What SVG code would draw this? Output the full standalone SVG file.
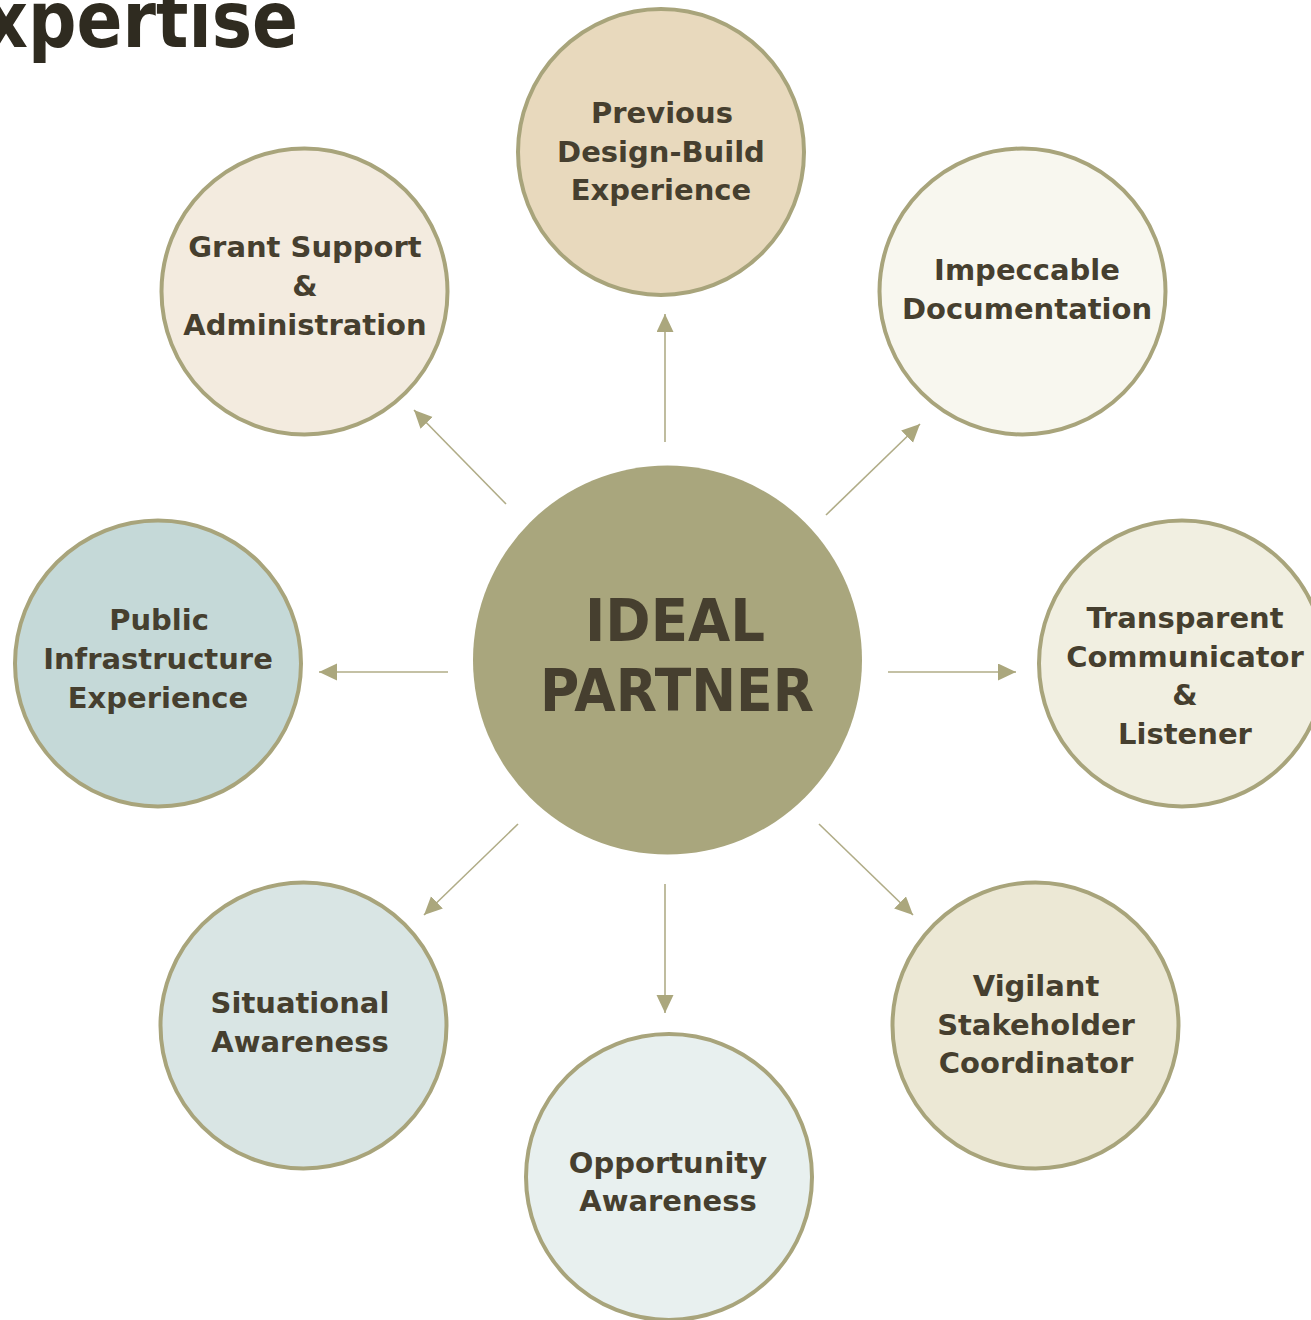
<svg xmlns="http://www.w3.org/2000/svg" width="1311" height="1320" viewBox="0 0 1311 1320">
<style>
.node{stroke:#a8a47b;stroke-width:4}
.t{font-family:"DejaVu Sans","Liberation Sans",sans-serif;font-weight:bold;font-size:29px;fill:#463f2f;text-anchor:middle}
.big{font-size:58px}
.c{fill:none;stroke:#b0ac87;stroke-width:1.6}
</style>
<defs>
<marker id="ah" markerUnits="userSpaceOnUse" markerWidth="19" markerHeight="18" refX="18" refY="8.5" orient="auto">
<path d="M0,0 L18,8.5 L0,17 z" fill="#aba77d"/>
</marker>
</defs>
<rect width="1311" height="1320" fill="#ffffff"/>
<text x="-62" y="47" font-family="DejaVu Sans,Liberation Sans,sans-serif" font-weight="bold" font-size="78" fill="#2f2b20" textLength="360" lengthAdjust="spacingAndGlyphs">Expertise</text>
<g id="connectors">
<line class="c" x1="665" y1="442" x2="665" y2="314" marker-end="url(#ah)"/>
<line class="c" x1="506" y1="504" x2="414" y2="410" marker-end="url(#ah)"/>
<line class="c" x1="826" y1="515" x2="920" y2="424" marker-end="url(#ah)"/>
<line class="c" x1="888" y1="672" x2="1016" y2="672" marker-end="url(#ah)"/>
<line class="c" x1="448" y1="672" x2="319" y2="672" marker-end="url(#ah)"/>
<line class="c" x1="518" y1="824" x2="424" y2="915" marker-end="url(#ah)"/>
<line class="c" x1="665" y1="884" x2="665" y2="1013" marker-end="url(#ah)"/>
<line class="c" x1="819" y1="824" x2="913" y2="915" marker-end="url(#ah)"/>
</g>
<g id="center">
<circle cx="667.5" cy="660" r="194.5" fill="#a9a67d"/>
<text class="t big" x="675" y="641" textLength="180" lengthAdjust="spacingAndGlyphs">IDEAL</text>
<text class="t big" x="677" y="711" textLength="274" lengthAdjust="spacingAndGlyphs">PARTNER</text>
</g>
<g id="previous">
<circle class="node" cx="661" cy="152" r="143" fill="#e8d9bd"/>
<text class="t" x="662" y="123">Previous</text>
<text class="t" x="661" y="162">Design-Build</text>
<text class="t" x="661" y="200">Experience</text>
</g>
<g id="grant">
<circle class="node" cx="304.5" cy="291.5" r="143" fill="#f3ebdf"/>
<text class="t" x="305" y="257">Grant Support</text>
<text class="t" x="305" y="296">&amp;</text>
<text class="t" x="305" y="335">Administration</text>
</g>
<g id="impeccable">
<circle class="node" cx="1022.5" cy="291.5" r="143" fill="#f8f7ef"/>
<text class="t" x="1027" y="280">Impeccable</text>
<text class="t" x="1027" y="319">Documentation</text>
</g>
<g id="public">
<circle class="node" cx="158" cy="663.5" r="143" fill="#c5d9d8"/>
<text class="t" x="159" y="630">Public</text>
<text class="t" x="158" y="669">Infrastructure</text>
<text class="t" x="158" y="708">Experience</text>
</g>
<g id="transparent">
<circle class="node" cx="1182" cy="663.5" r="143" fill="#f1efe1"/>
<text class="t" x="1185" y="628">Transparent</text>
<text class="t" x="1185" y="667">Communicator</text>
<text class="t" x="1185" y="705">&amp;</text>
<text class="t" x="1185" y="744">Listener</text>
</g>
<g id="situational">
<circle class="node" cx="303.5" cy="1025.5" r="143" fill="#d9e5e4"/>
<text class="t" x="300" y="1013">Situational</text>
<text class="t" x="300" y="1052">Awareness</text>
</g>
<g id="opportunity">
<circle class="node" cx="669" cy="1177" r="143" fill="#e8f0ef"/>
<text class="t" x="668" y="1173">Opportunity</text>
<text class="t" x="668" y="1211">Awareness</text>
</g>
<g id="vigilant">
<circle class="node" cx="1035.5" cy="1025.5" r="143" fill="#ece8d5"/>
<text class="t" x="1036" y="996">Vigilant</text>
<text class="t" x="1036" y="1035">Stakeholder</text>
<text class="t" x="1036" y="1073">Coordinator</text>
</g>
</svg>
